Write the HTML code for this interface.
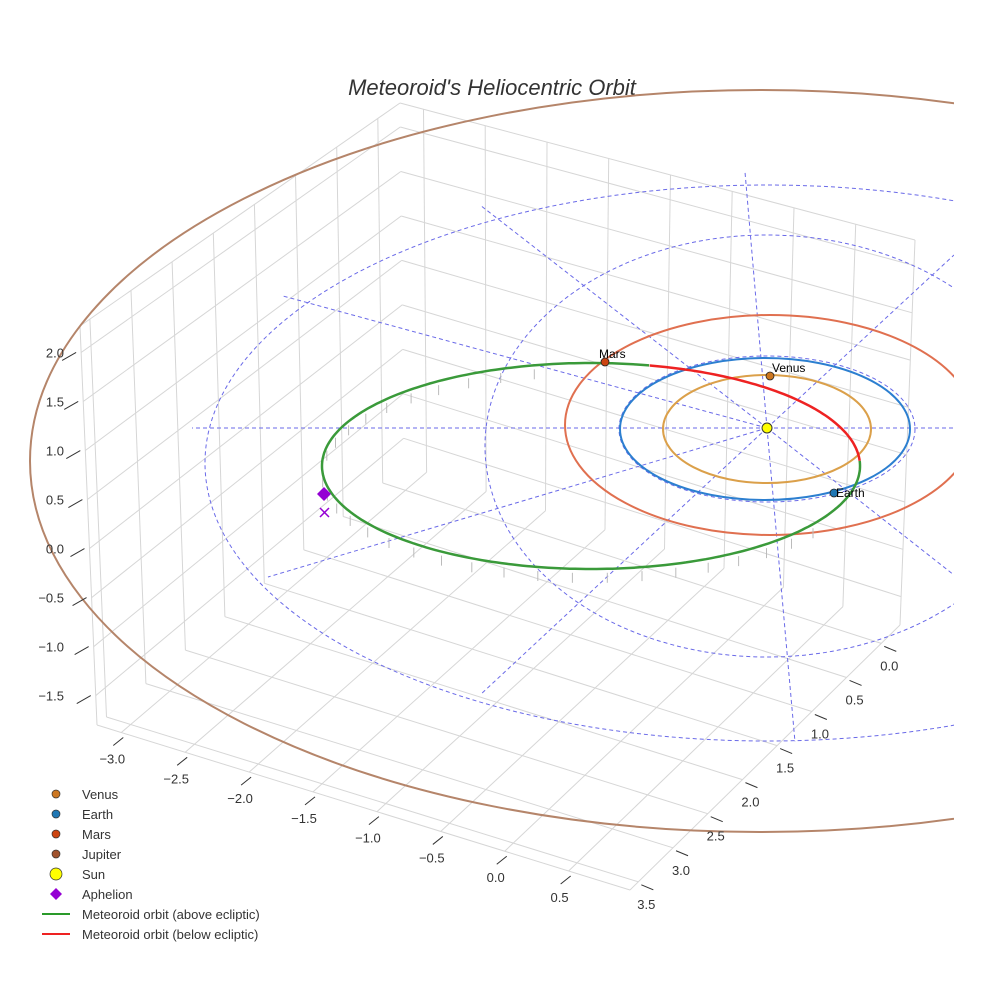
<!DOCTYPE html>
<html><head><meta charset="utf-8"><style>
body{margin:0;background:#fff;font-family:"Liberation Sans",sans-serif}
svg{display:block}
text{font-family:"Liberation Sans",sans-serif}
</style></head><body>
<svg id="c" width="984" height="984" viewBox="0 0 984 984">
<defs><clipPath id="clip"><rect x="0" y="0" width="954" height="984"/></clipPath></defs>
<text x="492" y="95" text-anchor="middle" font-size="22" font-style="italic" fill="#333">Meteoroid's Heliocentric Orbit</text>
<g id="grid" stroke="#d6d6d6" stroke-width="1" fill="none"></g>
<g id="plot" clip-path="url(#clip)"></g>
<g id="ticks" font-size="13" fill="#333"></g>
<g id="legend" font-size="13" fill="#333"></g>
</svg>
<script>
const zTicks=["2.0","1.5","1.0","0.5","0.0","−0.5","−1.0","−1.5"];
const zVals=[2,1.5,1,0.5,0,-0.5,-1,-1.5];
const xTicks=["−3.0","−2.5","−2.0","−1.5","−1.0","−0.5","0.0","0.5"];
const xVals=[-3,-2.5,-2,-1.5,-1,-0.5,0,0.5];
const yTicks=["0.0","0.5","1.0","1.5","2.0","2.5","3.0","3.5"];
const yVals=[0,0.5,1,1.5,2,2.5,3,3.5];
// orbit ellipses in screen projection: cx, cy, rx, ry
const orbitNames=["Jupiter","Mars","Earth","Venus"];
const orbitCx=[760,770,765,767];
const orbitCy=[461,425,429,429];
const orbitRx=[730,205,145,104];
const orbitRy=[371,110,71,54];
const orbitColor=["#b5856a","#e07050","#2c7fd0","#dba04a"];
const ringCx=[767,767,767];
const ringCy=[429,446,463];
const ringRx=[148,282,562];
const ringRy=[73,211,278];
const rayEndX=[192,480,283,268,480,795,745,954,954,954];
const rayEndY=[428,205,296,577,695,742,172,255,575,428];
const ns="http://www.w3.org/2000/svg";
function mk(t,a,p){const e=document.createElementNS(ns,t);for(const k in a)e.setAttribute(k,a[k]);p.appendChild(e);return e;}
const grid=document.getElementById('grid'),plot=document.getElementById('plot'),ticks=document.getElementById('ticks'),leg=document.getElementById('legend');
// 3D box projection
const XMIN=-3.19,XMAX=0.98,YMIN=-0.27,YMAX=3.62,ZMIN=-1.8,ZMAX=2.27;
const Lb=[97,725],Fb=[630,890],Rb=[900,625],Bb=[404,465];
const Lt=[80,326],Ft=[632,470],Rt=[915,240],Bt=[400,103];
function bil(L,F,R,B,u,v){
  const a=[L[0]+(F[0]-L[0])*u,L[1]+(F[1]-L[1])*u];
  const b=[B[0]+(R[0]-B[0])*u,B[1]+(R[1]-B[1])*u];
  return [a[0]+(b[0]-a[0])*v,a[1]+(b[1]-a[1])*v];}
function P(x,y,z){const u=(x-XMIN)/(XMAX-XMIN),v=(YMAX-y)/(YMAX-YMIN),w=(z-ZMIN)/(ZMAX-ZMIN);
  const b=bil(Lb,Fb,Rb,Bb,u,v),t=bil(Lt,Ft,Rt,Bt,u,v);return [b[0]+(t[0]-b[0])*w,b[1]+(t[1]-b[1])*w];}
function gl(p,q){const l=mk('line',{x1:p[0].toFixed(1),y1:p[1].toFixed(1),x2:q[0].toFixed(1),y2:q[1].toFixed(1)},grid);}
xVals.forEach(x=>{gl(P(x,YMIN,ZMIN),P(x,YMAX,ZMIN));gl(P(x,YMIN,ZMIN),P(x,YMIN,ZMAX));});
yVals.forEach(y=>{gl(P(XMIN,y,ZMIN),P(XMAX,y,ZMIN));gl(P(XMIN,y,ZMIN),P(XMIN,y,ZMAX));});
zVals.forEach(z=>{gl(P(XMIN,YMAX,z),P(XMIN,YMIN,z));gl(P(XMIN,YMIN,z),P(XMAX,YMIN,z));});
gl(P(XMIN,YMAX,ZMAX),P(XMIN,YMIN,ZMAX));gl(P(XMIN,YMIN,ZMAX),P(XMAX,YMIN,ZMAX));
gl(P(XMIN,YMAX,ZMIN),P(XMAX,YMAX,ZMIN));gl(P(XMAX,YMAX,ZMIN),P(XMAX,YMIN,ZMIN));
gl(P(XMIN,YMAX,ZMIN),P(XMIN,YMAX,ZMAX));gl(P(XMAX,YMIN,ZMIN),P(XMAX,YMIN,ZMAX));
// dashed rings and rays
ringCx.forEach((c,i)=>{const e=mk('ellipse',{cx:c,cy:ringCy[i],rx:ringRx[i],ry:ringRy[i],fill:'none',stroke:'#6a6ae8','stroke-width':1,'stroke-dasharray':'4,3'},plot);});
rayEndX.forEach((x,i)=>{const l=mk('line',{x1:767,y1:428,x2:x,y2:rayEndY[i],stroke:'#6a6ae8','stroke-width':1,'stroke-dasharray':'4,3'},plot);});
orbitNames.forEach((n,i)=>{const e=mk('ellipse',{cx:orbitCx[i],cy:orbitCy[i],rx:orbitRx[i],ry:orbitRy[i],fill:'none',stroke:orbitColor[i],'stroke-width':2},plot);});
// meteoroid orbit
const mcx=591,mcy=466,mrx=269,mry=103;
for(let a=0.6;a<Math.PI*1.45;a+=0.13){const x=mcx+mrx*Math.cos(a),y=mcy+mry*Math.sin(a);const l=mk('line',{x1:x.toFixed(1),y1:(y+4).toFixed(1),x2:x.toFixed(1),y2:(y+14).toFixed(1),stroke:'#bbb','stroke-width':1},plot);}
function arc(a0,a1,col,name){let d='';for(let a=a0;a<=a1+0.001;a+=0.02){const x=mcx+mrx*Math.cos(a),y=mcy+mry*Math.sin(a);d+=(d?'L':'M')+x.toFixed(1)+','+y.toFixed(1);}const p=mk('path',{d:d,fill:'none',stroke:col,'stroke-width':2.5},plot);}
arc(-Math.PI*0.43,-0.05,'#ee2222','meteoroid-orbit-below');
arc(-0.05,Math.PI*1.57,'#3a9a3a','meteoroid-orbit-above');
// points
const ptName=["Mars","Venus","Earth"],ptX=[605,770,834],ptY=[362,376,493],ptCol=["#cc4411","#cc7722","#1f77b4"];
ptName.forEach((n,i)=>{const c=mk('circle',{cx:ptX[i],cy:ptY[i],r:4,fill:ptCol[i],stroke:'#222','stroke-width':0.8},plot);
const t=mk('text',{x:i==0?ptX[i]-6:ptX[i]+2,y:i==2?ptY[i]+4:ptY[i]-4,'font-size':12,fill:'#000'},plot);t.textContent=n;});
const sun=mk('circle',{cx:767,cy:428,r:5,fill:'#ffff00',stroke:'#333','stroke-width':1},plot);
const ap=mk('path',{d:'M324,487 L331,494 L324,501 L317,494Z',fill:'#9400d3'},plot);
const xm=mk('path',{d:'M320,508 L329,517 M329,508 L320,517',stroke:'#9400d3','stroke-width':1.5},plot);
// ticks
zTicks.forEach((t,i)=>{const p=P(XMIN,YMAX,zVals[i]);const e=mk('text',{x:64,y:(p[1]+5).toFixed(1),'text-anchor':'end'},ticks);e.textContent=t;
const l=mk('line',{x1:p[0]-19,y1:p[1]+8,x2:p[0]-5,y2:p[1],stroke:'#333'},ticks);});
xTicks.forEach((t,i)=>{const p=P(xVals[i],YMAX,ZMIN);const e=mk('text',{x:(p[0]-9).toFixed(1),y:(p[1]+31).toFixed(1),'text-anchor':'middle'},ticks);e.textContent=t;
const l=mk('line',{x1:p[0]+2,y1:p[1]+5,x2:p[0]-8,y2:p[1]+13,stroke:'#333'},ticks);});
yTicks.forEach((t,i)=>{const p=P(XMAX,yVals[i],ZMIN);const e=mk('text',{x:(p[0]+8).toFixed(1),y:(p[1]+27).toFixed(1),'text-anchor':'middle'},ticks);e.textContent=t;
const l=mk('line',{x1:p[0]+3,y1:p[1]+3,x2:p[0]+15,y2:p[1]+8,stroke:'#333'},ticks);});
// legend
const legLabels=["Venus","Earth","Mars","Jupiter","Sun","Aphelion","Meteoroid orbit (above ecliptic)","Meteoroid orbit (below ecliptic)"];
const legCol=["#cc7722","#1f77b4","#cc4411","#a0522d","#ffff00","#9400d3","#2a9a2a","#ee2222"];
legLabels.forEach((t,i)=>{const y=794+i*20;let m;
if(i<4)m=mk('circle',{cx:56,cy:y,r:4,fill:legCol[i],stroke:'#333','stroke-width':0.7},leg);
else if(i==4)m=mk('circle',{cx:56,cy:y,r:6,fill:legCol[i],stroke:'#333','stroke-width':0.7},leg);
else if(i==5)m=mk('path',{d:`M56,${y-6}L62,${y}L56,${y+6}L50,${y}Z`,fill:legCol[i]},leg);
else m=mk('line',{x1:42,y1:y,x2:70,y2:y,stroke:legCol[i],'stroke-width':2},leg);

const e=mk('text',{x:82,y:y+5},leg);e.textContent=t;});
</script>
</body></html>
